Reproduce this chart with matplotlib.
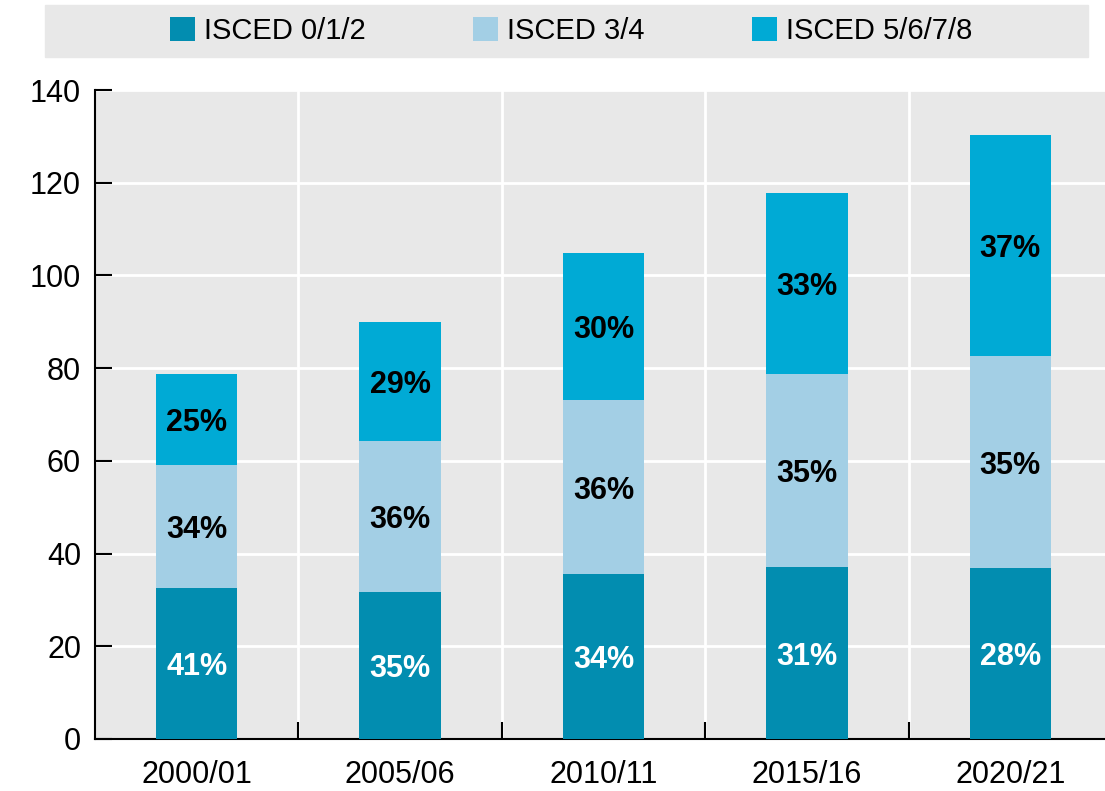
import matplotlib.pyplot as plt
import numpy as np
from matplotlib.patches import Rectangle

plt.rcParams['font.family'] = ['Liberation Sans', 'DejaVu Sans']

years = ["2000/01", "2005/06", "2010/11", "2015/16", "2020/21"]
isced_012 = [32.6, 31.7, 35.6, 37.1, 36.9]
isced_34 = [26.5, 32.6, 37.5, 41.6, 45.7]
isced_5678 = [19.6, 25.6, 31.7, 39.1, 47.7]
pct_012 = ["41%", "35%", "34%", "31%", "28%"]
pct_34 = ["34%", "36%", "36%", "35%", "35%"]
pct_5678 = ["25%", "29%", "30%", "33%", "37%"]

c1, c2, c3 = "#028db0", "#a3cfe5", "#00aad5"
bg = "#e8e8e8"

fig = plt.figure(figsize=(11.05, 7.91), dpi=100)
ax = fig.add_axes([95 / 1105, 1 - 739 / 791, 1 - 95 / 1105, 649 / 791])
ax.set_facecolor(bg)

x = np.arange(len(years))
w = 0.4
b1 = ax.bar(x, isced_012, w, color=c1, label="ISCED 0/1/2", zorder=3)
b2 = ax.bar(x, isced_34, w, bottom=isced_012, color=c2, label="ISCED 3/4", zorder=3)
bot3 = np.array(isced_012) + np.array(isced_34)
b3 = ax.bar(x, isced_5678, w, bottom=bot3, color=c3, label="ISCED 5/6/7/8", zorder=3)

# percentage labels in the middle of each segment
for bars, labs, col in [(b1, pct_012, "white"), (b2, pct_34, "black"), (b3, pct_5678, "black")]:
    for r, t in zip(bars, labs):
        ax.text(r.get_x() + r.get_width() / 2, r.get_y() + r.get_height() / 2, t,
                ha="center", va="center_baseline", color=col, fontsize=22,
                fontweight="bold", zorder=4)

ax.set_ylim(0, 140)
ax.set_yticks(np.arange(0, 141, 20))
ax.set_xlim(-0.5, 4.466)
ax.set_xticks(x)
ax.set_xticklabels(years)
ax.set_xticks(np.arange(0.5, 4.5, 1), minor=True)
ax.grid(True, which="major", axis="y", color="white", lw=2, zorder=1)
ax.grid(True, which="minor", axis="x", color="white", lw=2, zorder=1)
ax.tick_params(axis="y", direction="in", length=12, width=1.5, labelsize=22, pad=10)
ax.tick_params(axis="x", which="major", length=0, labelsize=22, pad=15)
ax.tick_params(axis="x", which="minor", direction="in", length=12, width=1.5)
for s in ["top", "right"]:
    ax.spines[s].set_visible(False)
for s in ["left", "bottom"]:
    ax.spines[s].set_linewidth(1.5)

# legend band
fig.patches.append(Rectangle((45 / 1105, 1 - 57 / 791), 1043 / 1105, 52 / 791,
                             transform=fig.transFigure, color=bg, zorder=0))
fig.legend(handles=[b1, b2, b3], loc="center", bbox_to_anchor=(0.517, 1 - 31 / 791),
           ncol=3, frameon=False, fontsize=21, handlelength=0.85, handleheight=0.85,
           handletextpad=0.3, columnspacing=3.7)

fig.savefig("out.png", dpi=100)
